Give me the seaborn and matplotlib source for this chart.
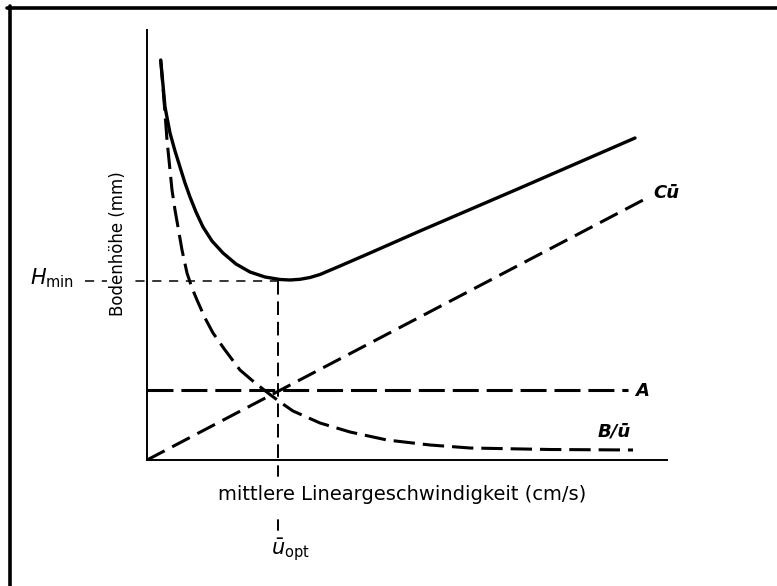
import matplotlib
matplotlib.use("Agg")
import matplotlib.pyplot as plt
from matplotlib.lines import Line2D
import seaborn as sns

# ---- data (arbitrary units) ----
u_total = [1.37, 1.6, 1.8, 2.3, 2.8, 3.3, 3.8, 4.3, 4.9, 5.6, 6.5, 7.6, 8.9,
           10.3, 11.8, 13.3, 14.3, 15.3, 16.3, 17.3, 19.3, 22.3, 27.3, 37.3, 48.8]
H_total = [40.0, 37.5, 35.3, 32.7, 30.9, 29.3, 27.7, 26.3, 24.8, 23.3, 21.9, 20.7, 19.6,
           18.8, 18.3, 18.05, 18.0, 18.07, 18.25, 18.55, 19.4, 20.7, 22.9, 27.2, 32.2]

u_B = [1.37, 1.7, 2.0, 2.25, 2.5, 2.8, 3.1, 3.5, 4.0, 4.5, 5.0, 5.8, 6.6, 7.8, 9.3,
       10.7, 12.1, 13.3, 14.6, 17.3, 20.3, 24.0, 28.3, 32.3, 40.3, 48.6]
H_B = [40.0, 36.0, 32.0, 29.5, 27.0, 25.0, 23.3, 21.0, 18.7, 17.2, 16.0, 14.2, 12.7, 11.0, 9.0,
       7.8, 6.7, 5.8, 4.9, 3.7, 2.8, 2.0, 1.5, 1.2, 1.05, 1.0]

u_C = [0.0, 50.0]
H_C = [0.0, 26.2]

u_A = [0.0, 48.1]
H_A = [7.0, 7.0]

u_opt = 13.1
H_min = 17.9

x_label = "mittlere Lineargeschwindigkeit (cm/s)"
y_label = "Bodenhöhe (mm)"

# ---- style ----
sns.set_style("white")
plt.rcParams["font.family"] = ["DejaVu Sans"]
plt.rcParams["mathtext.fontset"] = "dejavusans"

W, Hpx = 777, 586
fig = plt.figure(figsize=(W / 100, Hpx / 100), dpi=100)


def fx(px):
    return px / W


def fy(py):
    return 1 - py / Hpx


ax_l, ax_r, ax_b, ax_t = 147, 667, 460, 30
ax = fig.add_axes([fx(ax_l), fy(ax_b), (ax_r - ax_l) / W, (ax_b - ax_t) / Hpx])
ax.set_xlim(0, (ax_r - ax_l) / 10)
ax.set_ylim(0, (ax_b - ax_t) / 10)
for s in ["top", "right"]:
    ax.spines[s].set_visible(False)
for s in ["left", "bottom"]:
    ax.spines[s].set_linewidth(1.4)
    ax.spines[s].set_color("black")
ax.set_xticks([])
ax.set_yticks([])
ax.set_xlabel("")
ax.set_ylabel("")

# curves
sns.lineplot(x=u_total, y=H_total, ax=ax, color="black", linewidth=2.4,
             sort=False, estimator=None, solid_capstyle="round",
             solid_joinstyle="round")
sns.lineplot(x=u_B, y=H_B, ax=ax, color="black", linewidth=2.2,
             sort=False, estimator=None, linestyle=(0, (7, 2.6)),
             dash_joinstyle="round")
sns.lineplot(x=u_C, y=H_C, ax=ax, color="black", linewidth=2.2,
             sort=False, estimator=None, linestyle=(0, (6.5, 2.8)))
sns.lineplot(x=u_A, y=H_A, ax=ax, color="black", linewidth=2.2,
             sort=False, estimator=None, linestyle=(0, (8.5, 2.6)))

# guide lines
ax.plot([-6.2, u_opt], [H_min, H_min], color="black", linewidth=1.1,
        linestyle=(0, (6, 5)), clip_on=False, zorder=1)
ax.plot([u_opt, u_opt], [H_min, 0], color="black", linewidth=1.4,
        linestyle=(0, (7, 3.5)), clip_on=False)
ax.plot([u_opt, u_opt], [-0.6, -1.6], color="black", linewidth=1.4, clip_on=False)
ax.plot([u_opt, u_opt], [-6.0, -7.0], color="black", linewidth=1.4, clip_on=False)

# labels
fig.text(fx(402), fy(494), x_label, ha="center", va="center", fontsize=14,
         color="black")
fig.text(fx(118), fy(244), y_label, ha="center", va="center", fontsize=12,
         rotation=90, color="black",
         bbox=dict(facecolor="white", edgecolor="none", pad=1.5), zorder=5)
fig.text(fx(30), fy(278), r"$H_{\mathrm{min}}$", ha="left", va="center",
         fontsize=15, color="black")
fig.text(fx(271), fy(550), r"$\bar{u}_{\mathrm{opt}}$", ha="left", va="center",
         fontsize=15, color="black")
fig.text(fx(653), fy(193), "Cū", ha="left", va="center", fontsize=13,
         fontweight="bold", style="italic", color="black")
fig.text(fx(635), fy(391), "A", ha="left", va="center", fontsize=13,
         fontweight="bold", style="italic", color="black")
fig.text(fx(598), fy(431), "B/ū", ha="left", va="center", fontsize=13,
         fontweight="bold", style="italic", color="black")

# image frame (top and left edges)
fig.add_artist(Line2D([fx(7), fx(777)], [fy(7.5), fy(7.5)], color="black",
                      linewidth=2.6, transform=fig.transFigure))
fig.add_artist(Line2D([fx(9.5), fx(9.5)], [fy(6), fy(586)], color="black",
                      linewidth=2.6, transform=fig.transFigure))

fig.savefig("out.png", dpi=100)
